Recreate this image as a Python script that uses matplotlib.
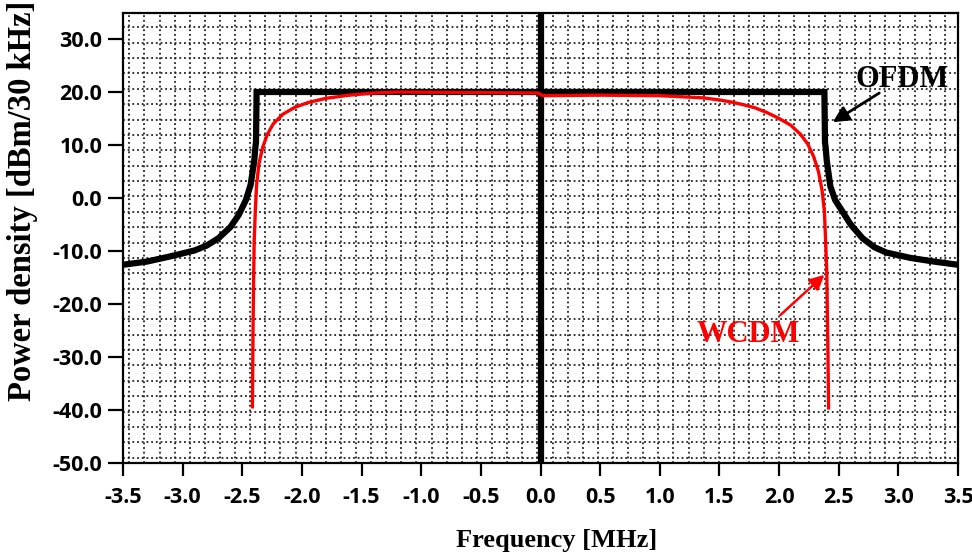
import matplotlib
matplotlib.use('Agg')
import matplotlib.pyplot as plt
from matplotlib.ticker import FixedLocator
import numpy as np

# OFDM spectrum (black)
ofdm_freq = [-3.5, -3.3, -3.1, -2.9, -2.8, -2.7, -2.6, -2.53, -2.47, -2.43, -2.40, -2.39, -2.385,
             -2.38, 2.38, 2.385, 2.39, 2.40, 2.43, 2.47, 2.53, 2.6, 2.7, 2.8, 2.9, 3.1, 3.3, 3.5]
ofdm_psd = [-12.6, -12.0, -11.0, -9.9, -9.0, -7.6, -5.5, -3.2, -0.4, 2.5, 7.0, 9.6, 10.5,
            20.0, 20.0, 10.5, 9.6, 7.0, 2.2, -0.4, -2.5, -5.0, -7.6, -9.3, -10.3, -11.3, -12.0, -12.6]

# WCDM spectrum (red)
wcdm_freq = [-2.415, -2.41, -2.405, -2.40, -2.39, -2.38, -2.36, -2.33, -2.29, -2.24, -2.16, -2.06,
             -1.95, -1.8, -1.6, -1.4, -1.2, -0.6, -0.02, 0.02, 0.5, 1.0, 1.36, 1.5, 1.6, 1.7,
             1.8, 1.9, 2.0, 2.1, 2.18, 2.24, 2.29, 2.33, 2.36, 2.38, 2.39, 2.40, 2.405, 2.41, 2.415]
wcdm_psd = [-39.4, -25.0, -15.0, -8.0, -2.0, 2.5, 6.5, 9.5, 12.0, 14.0, 15.8, 17.1,
            18.0, 18.8, 19.4, 19.8, 20.0, 19.9, 19.8, 19.3, 19.4, 19.3, 18.9, 18.5, 18.1, 17.6,
            17.0, 16.1, 15.0, 13.7, 12.0, 10.2, 7.8, 5.0, 1.5, -2.5, -8.0, -14.0, -22.0, -30.0, -39.6]

xticks = [-3.5, -3.0, -2.5, -2.0, -1.5, -1.0, -0.5, 0.0, 0.5, 1.0, 1.5, 2.0, 2.5, 3.0, 3.5]
yticks = [-50, -40, -30, -20, -10, 0, 10, 20, 30]

serif = 'Liberation Serif'
tickfont = 'Open Sans'

fig = plt.figure(figsize=(9.72, 5.53), dpi=100)
ax = fig.add_axes([123 / 972, 90 / 553, 835 / 972, 450 / 553])

ax.set_xlim(-3.5, 3.5)
ax.set_ylim(-50, 34.9)

# dotted background grid
ax.xaxis.set_minor_locator(FixedLocator(np.linspace(-3.447, 3.395, 55)))
ax.yaxis.set_minor_locator(FixedLocator(np.arange(-49.0, 34.0, 2.9)))
ax.grid(which='minor', color='#222222', linestyle=(0, (1, 1.6)), linewidth=1.3)
ax.tick_params(which='minor', length=0)

ax.axvline(0, color='black', linewidth=4.5, zorder=3)
ax.plot(ofdm_freq, ofdm_psd, color='black', linewidth=4.5, solid_joinstyle='miter', zorder=4)
ax.plot(wcdm_freq, wcdm_psd, color='red', linewidth=2.4, zorder=5)

ax.set_xticks(xticks)
ax.set_xticklabels(['%.1f' % v for v in xticks])
ax.set_yticks(yticks)
ax.set_yticklabels(['%.1f' % v for v in yticks])
ax.tick_params(axis='y', which='major', length=11, width=1.6, direction='out', pad=4)
ax.tick_params(axis='x', which='major', length=9.5, width=1.6, direction='out', pad=8)
for lab in ax.get_xticklabels() + ax.get_yticklabels():
    lab.set_fontfamily(tickfont)
    lab.set_fontweight('bold')
    lab.set_fontsize(15.5)

for s in ax.spines.values():
    s.set_linewidth(1.6)

ax.text(3.03, 22.3, 'OFDM', ha='center', va='center', fontsize=22, fontweight='bold',
        fontfamily=serif, color='black', zorder=6)
ax.annotate('', xy=(2.45, 14.3), xytext=(2.84, 19.8),
            arrowprops=dict(arrowstyle='-|>', color='black', lw=2.0, mutation_scale=24,
                            shrinkA=0, shrinkB=0), zorder=6)
ax.text(1.74, -25.8, 'WCDM', ha='center', va='center', fontsize=22, fontweight='bold',
        fontfamily=serif, color='red', zorder=6)
ax.annotate('', xy=(2.38, -14.5), xytext=(2.01, -22.1),
            arrowprops=dict(arrowstyle='-|>', color='red', lw=1.8, mutation_scale=22,
                            shrinkA=0, shrinkB=0), zorder=6)

fig.text(557 / 972, 1 - 540 / 553, 'Frequency [MHz]', ha='center', va='center',
         fontsize=19, fontweight='bold', fontfamily=serif)
fig.text(23 / 972, 1 - 201 / 553, 'Power density [dBm/30 kHz]', ha='center', va='center',
         rotation=90, fontsize=23.5, fontweight='bold', fontfamily=serif)

fig.savefig('out.png', dpi=100)
